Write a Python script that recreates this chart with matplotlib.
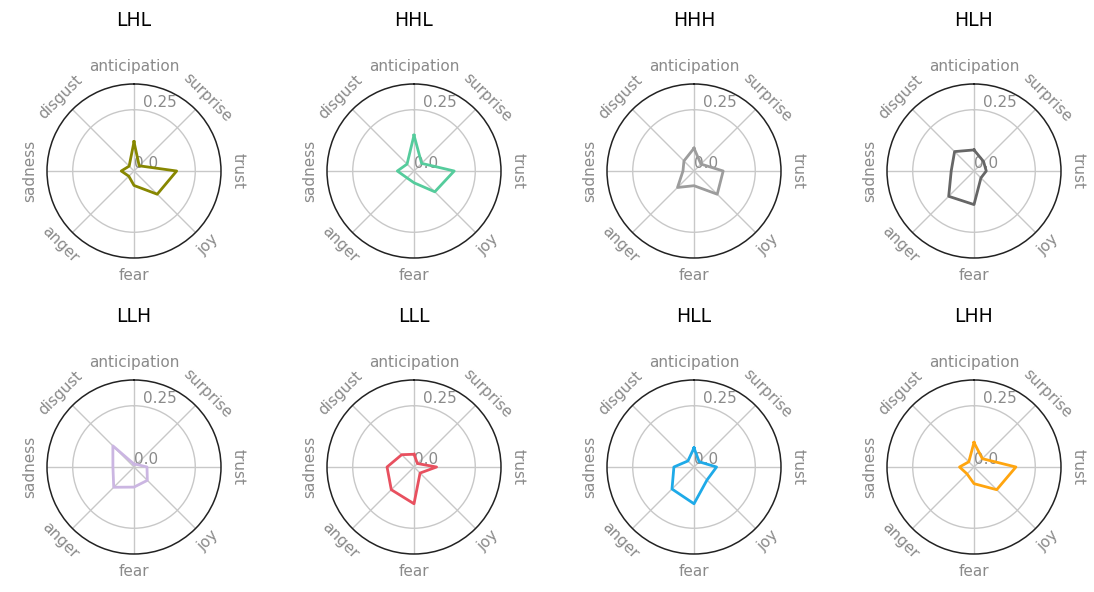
import numpy as np
import matplotlib
matplotlib.use("Agg")
import matplotlib.pyplot as plt

emotions = ["anticipation", "surprise", "trust", "joy", "fear", "anger", "sadness", "disgust"]
groups = ["LHL", "HHL", "HHH", "HLH", "LLH", "LLL", "HLL", "LHH"]
colors = ["#878700", "#55cc9c", "#9c9c9c", "#666666", "#cbb6e2", "#e8505f", "#1eaae8", "#ffa50f"]

LHL = [0.119, 0.030, 0.174, 0.134, 0.059, 0.030, 0.052, 0.028]
HHL = [0.146, 0.044, 0.164, 0.120, 0.048, 0.040, 0.068, 0.040]
HHH = [0.093, 0.040, 0.119, 0.134, 0.060, 0.095, 0.045, 0.058]
HLH = [0.086, 0.055, 0.050, 0.040, 0.137, 0.146, 0.093, 0.112]
LLH = [0.012, 0.015, 0.053, 0.077, 0.082, 0.117, 0.086, 0.122]
LLL = [0.052, 0.020, 0.092, 0.035, 0.150, 0.131, 0.110, 0.071]
HLL = [0.078, 0.030, 0.092, 0.075, 0.150, 0.127, 0.082, 0.035]
LHH = [0.100, 0.048, 0.171, 0.131, 0.068, 0.040, 0.059, 0.030]
series = [LHL, HHL, HHH, HLH, LLH, LLL, HLL, LHH]

r_ticks = [0.0, 0.25]
r_tick_labels = ["0.0", "0.25"]

W, H = 1094, 592
fig = plt.figure(figsize=(W / 100, H / 100), dpi=100)
centers_x = [134, 414, 694, 974]
centers_y = [171, 467]
R = 87

angles = np.linspace(0, 2 * np.pi, len(emotions), endpoint=False)
for i, (name, vals, col) in enumerate(zip(groups, series, colors)):
    cx = centers_x[i % 4]
    cy = centers_y[i // 4]
    ax = fig.add_axes([(cx - R) / W, (H - cy - R) / H, 2 * R / W, 2 * R / H], projection="polar")
    ax.set_theta_offset(np.pi / 2)
    ax.set_theta_direction(-1)
    v = list(vals) + [vals[0]]
    a = list(angles) + [angles[0]]
    ax.plot(a, v, color=col, lw=2)
    ax.set_ylim(0, 0.355)
    ax.set_yticks(r_ticks)
    ax.set_yticklabels(r_tick_labels, color="#8a8a8a", fontsize=11)
    ax.set_rlabel_position(8)
    ax.set_xticks(angles)
    ax.set_xticklabels(emotions, color="#8a8a8a", fontsize=11)
    ax.tick_params(axis="x", labelrotation="auto", pad=2)
    ax.grid(True, color="#c8c8c8", lw=1)
    ax.spines["polar"].set_color("#222222")
    ax.spines["polar"].set_linewidth(1.1)
    ax.set_title(name, fontsize=13.5, pad=42)

fig.savefig("out.png", dpi=100, facecolor="white")
